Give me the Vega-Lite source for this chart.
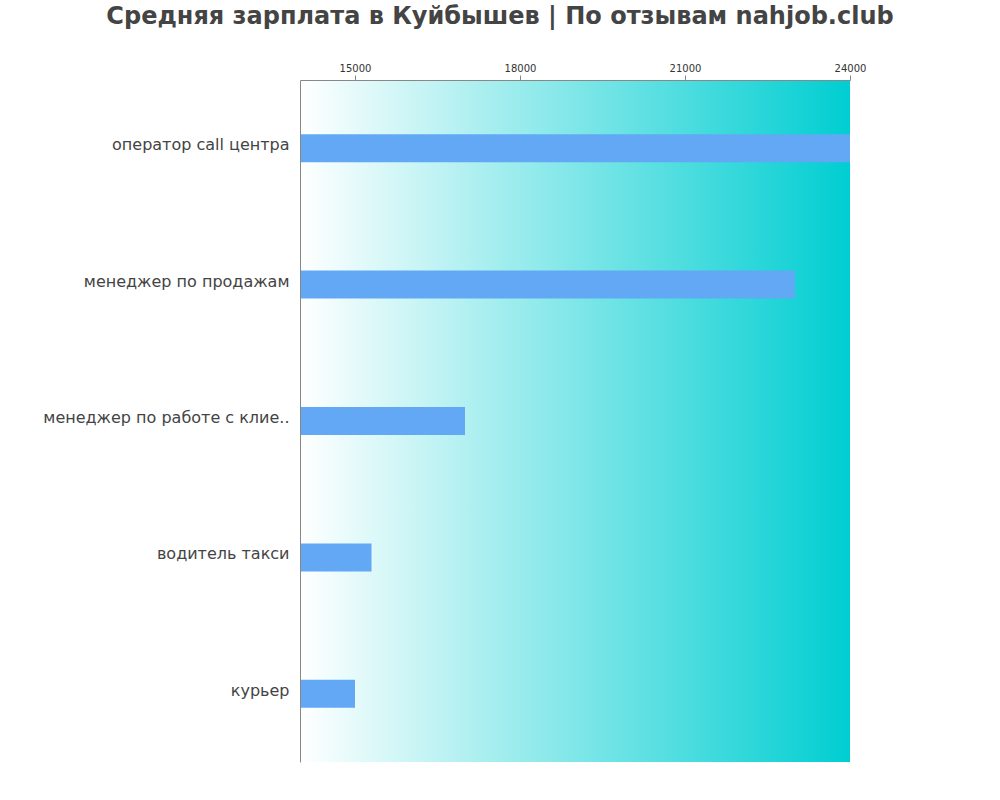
{
  "$schema": "https://vega.github.io/schema/vega-lite/v6.json",
  "width": 550,
  "height": 682,
  "autosize": "none",
  "padding": {"left": 300, "top": 80, "right": 150, "bottom": 38},
  "background": "white",
  "title": {
    "text": "Средняя зарплата в Куйбышев | По отзывам nahjob.club",
    "font": "DejaVu Sans",
    "fontSize": 24,
    "fontWeight": "bold",
    "color": "#444444",
    "anchor": "middle",
    "dx": -75,
    "offset": 34
  },
  "layer": [
    {
      "data": {"values": [{}]},
      "mark": {
        "type": "rect",
        "fill": {
          "gradient": "linear",
          "x1": 0, "y1": 0, "x2": 1, "y2": 0,
          "stops": [
            {"offset": 0, "color": "#ffffff"},
            {"offset": 1, "color": "#00ced1"}
          ]
        }
      },
      "encoding": {
        "x": {"datum": 14000, "type": "quantitative"},
        "x2": {"datum": 24000}
      }
    },
    {
      "data": {
        "values": [
          {"job": "оператор call центра", "salary": 24000},
          {"job": "менеджер по продажам", "salary": 23000},
          {"job": "менеджер по работе с клие..", "salary": 17000},
          {"job": "водитель такси", "salary": 15300},
          {"job": "курьер", "salary": 15000}
        ]
      },
      "mark": {"type": "bar", "color": "#62a8f4", "size": 28, "clip": true},
      "encoding": {
        "y": {
          "field": "job",
          "type": "nominal",
          "sort": null,
          "title": null,
          "scale": {"paddingInner": 0, "paddingOuter": 0},
          "axis": {
            "ticks": false,
            "labelFont": "DejaVu Sans",
            "labelFontSize": 16,
            "labelColor": "#444444",
            "labelPadding": 11,
            "labelOffset": -3,
            "labelLimit": 300,
            "domainColor": "#888888",
            "zindex": 1
          }
        },
        "x": {
          "field": "salary",
          "type": "quantitative",
          "title": null,
          "scale": {"domain": [14000, 24000], "nice": false, "zero": false},
          "axis": {
            "orient": "top",
            "values": [15000, 18000, 21000, 24000],
            "format": "d",
            "grid": false,
            "labelFlush": false,
            "labelFont": "DejaVu Sans",
            "labelFontSize": 10,
            "labelColor": "#333333",
            "tickColor": "#888888",
            "tickSize": 5,
            "domainColor": "#888888",
            "labelPadding": 2,
            "zindex": 1
          }
        }
      }
    }
  ],
  "config": {"view": {"stroke": null}}
}
